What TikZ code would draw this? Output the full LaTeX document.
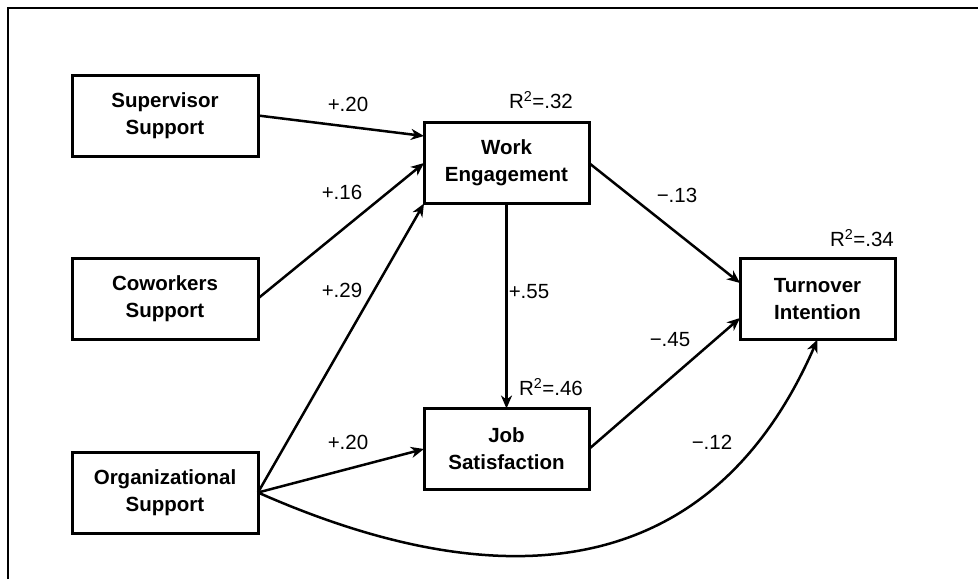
\documentclass[tikz,border=0pt]{standalone}
\usepackage{fontspec}
\setmainfont{Liberation Sans}
\usetikzlibrary{positioning}
\usetikzlibrary{arrows.meta}

\begin{document}
\begin{tikzpicture}[
    x=1pt, y=1pt,
    >={Stealth[length=13pt, width=11pt, inset=4pt]},
    box/.style={
      draw,
      line width=3pt,
      minimum height=81pt,
      align=center,
      outer sep=0pt,
      font=\bfseries\fontsize{20.5}{27}\selectfont,
    },
    side/.style={
      box,
      minimum width=186pt,
    },
    mid/.style={
      box,
      minimum width=165pt,
    },
    coef/.style={
      font=\fontsize{20.5}{24}\selectfont,
    },
    link/.style={
      ->,
      line width=2.5pt,
    },
    ]
    \useasboundingbox (0,0) rectangle (978,-579);
    \draw[line width=2.5pt] (8,-579) -- (8,-8) -- (978,-8);

    \node[side] (sup) at (165,-115.5) {Supervisor \\ Support};
    \node[side, below=102pt of sup] (cow) {Coworkers \\ Support};
    \node[side, below=113pt of cow] (org) {Organizational \\ Support};
    \node[mid] (we) at (506.5,-163) {Work \\ Engagement};
    \node[mid, below=205pt of we] (js) {Job \\ Satisfaction};
    \node[box, minimum width=155pt] (ti) at (817.5,-299) {Turnover \\ Intention};

    \node[coef] (r-we) at (541,-100) {R\textsuperscript{2}=.32};
    \node[coef] (r-js) at (551,-387) {R\textsuperscript{2}=.46};
    \node[coef] (r-ti) at (862,-238) {R\textsuperscript{2}=.34};

    \node[coef] (c-sup) at (348,-104) {+.20};
    \node[coef] (c-cow) at (342,-192) {+.16};
    \node[coef] (c-org) at (342,-290) {+.29};
    \node[coef] (c-orgjs) at (348,-442) {+.20};
    \node[coef] (c-wejs) at (529,-292) {+.55};
    \node[coef] (c-weti) at (677,-195) {−.13};
    \node[coef] (c-jsti) at (670,-340) {−.45};
    \node[coef] (c-orgti) at (712,-442) {−.12};

    \draw[link] (sup.east) -- ([yshift=27pt]we.west);
    \draw[link] (cow.east) -- (we.west);
    \draw[link] (org.east) -- (we.south west);
    \draw[link] (org.east) -- (js.west);
    \draw[link] (we.south) -- (js.north);
    \draw[link] (we.east) -- ([yshift=16pt]ti.west);
    \draw[link] (js.east) -- ([yshift=-19pt]ti.west);
    \draw[link] (org.east) .. controls +(242pt,-107pt) and +(-107pt,-245pt) .. (ti.south);
  \end{tikzpicture}
\end{document}
